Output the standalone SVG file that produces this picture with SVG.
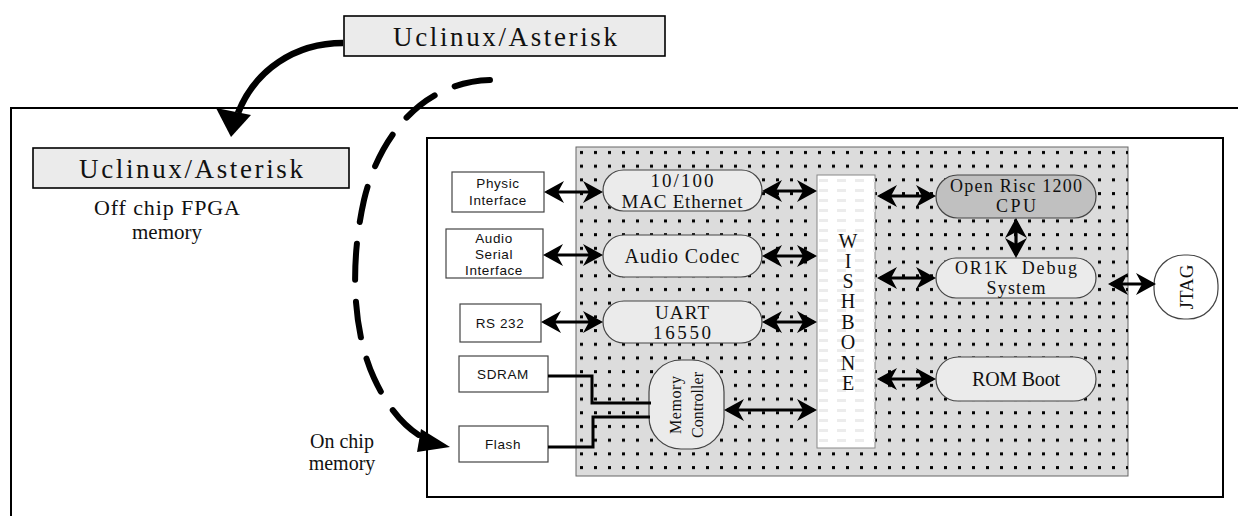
<svg xmlns="http://www.w3.org/2000/svg" width="1238" height="516" viewBox="0 0 1238 516">
<style>
.serif{font-family:"Liberation Serif","DejaVu Serif",serif;fill:#111;text-anchor:middle;dominant-baseline:central}
.sans{font-family:"Liberation Sans",Arial,sans-serif;fill:#111;text-anchor:middle;dominant-baseline:central;font-size:13.5px;letter-spacing:0.6px}
.box{fill:#fff;stroke:#444;stroke-width:1.2}
.gbox{fill:#ebebeb;stroke:#000;stroke-width:1.6}
.pill{fill:#ebebeb;stroke:#444;stroke-width:1.2}
.dbl{stroke:#000;stroke-width:3.2;fill:none;marker-start:url(#ah);marker-end:url(#ah)}
.wire{stroke:#000;stroke-width:3;fill:none}
</style>
<defs>
<marker id="ah" viewBox="0 0 20 22" refX="17" refY="11" markerWidth="20" markerHeight="22" markerUnits="userSpaceOnUse" orient="auto-start-reverse">
<path d="M0,0 L20,11 L0,22 L6,11 Z" fill="#000"/>
</marker>
<pattern id="dots" x="576" y="147" width="14" height="13.7" patternUnits="userSpaceOnUse">
<rect x="4" y="4" width="3" height="3" fill="#000"/>
</pattern>
<pattern id="wbp" x="817" y="175" width="18" height="10" patternUnits="userSpaceOnUse">
<rect x="2" y="4" width="9" height="3" fill="#ececec"/>
</pattern>
</defs>

<rect width="1238" height="516" fill="#fff"/>

<g id="outer-frame">
<rect x="11" y="108" width="1240" height="420" fill="none" stroke="#000" stroke-width="2"/>
</g>

<g id="fpga-chip">
<rect x="427" y="138" width="796" height="359" fill="none" stroke="#000" stroke-width="2"/>
</g>

<g id="soc-area">
<rect x="576" y="147" width="552" height="329" fill="#dcdcdc" stroke="#666" stroke-width="1"/>
<rect x="576" y="147" width="552" height="329" fill="url(#dots)"/>
</g>

<g id="uclinux-top">
<rect class="gbox" x="344" y="16" width="321" height="40"/>
<text class="serif" x="505" y="37" font-size="27" textLength="224" lengthAdjust="spacing">Uclinux/Asterisk</text>
</g>

<g id="uclinux-offchip">
<rect class="gbox" x="33" y="148" width="316" height="40"/>
<text class="serif" x="191" y="169" font-size="27" textLength="224" lengthAdjust="spacing">Uclinux/Asterisk</text>
</g>

<g id="label-offchip">
<text class="serif" x="167" y="207" font-size="22" textLength="146">Off chip FPGA</text>
<text class="serif" x="167" y="232" font-size="21">memory</text>
</g>

<g id="label-onchip">
<text class="serif" x="342" y="441" font-size="20">On chip</text>
<text class="serif" x="342" y="463" font-size="20">memory</text>
</g>

<g id="physic">
<rect class="box" x="452" y="172" width="92" height="40"/>
<text class="sans" x="498" y="183">Physic</text>
<text class="sans" x="498" y="200">Interface</text>
</g>

<g id="audio-serial">
<rect class="box" x="446" y="229" width="97" height="49"/>
<text class="sans" x="494" y="238">Audio</text>
<text class="sans" x="494" y="254">Serial</text>
<text class="sans" x="494" y="270">Interface</text>
</g>

<g id="rs232">
<rect class="box" x="460" y="304" width="81" height="38"/>
<text class="sans" x="500" y="323">RS 232</text>
</g>

<g id="sdram">
<rect class="box" x="459" y="356" width="89" height="36"/>
<text class="sans" x="503" y="374">SDRAM</text>
</g>

<g id="flash">
<rect class="box" x="459" y="426" width="89" height="36"/>
<text class="sans" x="503" y="444">Flash</text>
</g>

<g id="mac-ethernet">
<rect class="pill" x="603" y="170" width="159" height="41" rx="20.5"/>
<text class="serif" x="682" y="180" font-size="19" textLength="63">10/100</text>
<text class="serif" x="682" y="201" font-size="19" textLength="121">MAC Ethernet</text>
</g>

<g id="audio-codec">
<rect class="pill" x="603" y="235" width="159" height="42" rx="21"/>
<text class="serif" x="682" y="256" font-size="20" textLength="115">Audio Codec</text>
</g>

<g id="uart">
<rect class="pill" x="603" y="301" width="159" height="42" rx="21"/>
<text class="serif" x="682" y="312" font-size="19" textLength="54">UART</text>
<text class="serif" x="682" y="332" font-size="19" textLength="58">16550</text>
</g>

<g id="memory-controller">
<rect class="pill" x="649" y="360" width="75" height="89" rx="32"/>
<text class="serif" font-size="16" transform="translate(675,405) rotate(-90)" x="0" y="0" textLength="58">Memory</text>
<text class="serif" font-size="16" transform="translate(697,405) rotate(-90)" x="0" y="0" textLength="66">Controller</text>
</g>

<g id="wishbone">
<rect x="817" y="175" width="58" height="273" fill="#fff" stroke="#888" stroke-width="1"/>
<rect x="817" y="175" width="58" height="273" fill="url(#wbp)"/>
<text class="serif" font-size="20" x="848" y="241">W</text>
<text class="serif" font-size="20" x="848" y="261">I</text>
<text class="serif" font-size="20" x="848" y="281">S</text>
<text class="serif" font-size="20" x="848" y="301">H</text>
<text class="serif" font-size="20" x="848" y="322">B</text>
<text class="serif" font-size="20" x="848" y="342">O</text>
<text class="serif" font-size="20" x="848" y="363">N</text>
<text class="serif" font-size="20" x="848" y="383">E</text>
</g>

<g id="cpu">
<rect x="936" y="175" width="160" height="43" rx="21.5" fill="#c0c0c0" stroke="#444" stroke-width="1.2"/>
<text class="serif" x="1016" y="186" font-size="18" textLength="132">Open Risc 1200</text>
<text class="serif" x="1016" y="206" font-size="18" textLength="40">CPU</text>
</g>

<g id="debug">
<rect class="pill" x="936" y="258" width="160" height="40" rx="20"/>
<text class="serif" x="1016" y="268" font-size="18" textLength="122" xml:space="preserve">OR1K  Debug</text>
<text class="serif" x="1016" y="288" font-size="18" textLength="59">System</text>
</g>

<g id="rom-boot">
<rect class="pill" x="936" y="357" width="160" height="44" rx="22"/>
<text class="serif" x="1016" y="379" font-size="20" textLength="88">ROM Boot</text>
</g>

<g id="jtag">
<rect x="1154" y="255" width="64" height="64" rx="30" fill="#fff" stroke="#444" stroke-width="1.2"/>
<text class="serif" font-size="19" transform="translate(1186,287) rotate(-90)" x="0" y="0">JTAG</text>
</g>

<g id="connectors">
<line class="dbl" x1="547" y1="192" x2="600" y2="192"/>
<line class="dbl" x1="765" y1="191" x2="814" y2="191"/>
<line class="dbl" x1="546" y1="255" x2="600" y2="255"/>
<line class="dbl" x1="765" y1="256" x2="814" y2="256"/>
<line class="dbl" x1="544" y1="322" x2="600" y2="322"/>
<line class="dbl" x1="765" y1="322" x2="814" y2="322"/>
<line class="dbl" x1="727" y1="410" x2="814" y2="410"/>
<line class="dbl" x1="880" y1="196" x2="933" y2="196"/>
<line class="dbl" x1="880" y1="278" x2="933" y2="278"/>
<line class="dbl" x1="880" y1="379" x2="933" y2="379"/>
<line class="dbl" x1="1016" y1="221" x2="1016" y2="255"/>
<line class="dbl" x1="1111" y1="284" x2="1153" y2="284"/>
<polyline class="wire" points="548,376 592,376 592,403 651,403"/>
<polyline class="wire" points="548,447 593,447 593,417 650,417"/>
<path d="M343,43 C295,43 255,70 238,113" fill="none" stroke="#000" stroke-width="6.5"/>
<polygon points="231,137 216,108 251,115" fill="#000"/>
<path d="M490,80 C420,82 378,140 364,200 C350,262 352,330 374,378 C390,413 410,432 428,440" fill="none" stroke="#000" stroke-width="6" stroke-linecap="round" stroke-dasharray="36 22"/>
<polygon points="450,447 421,429 417,452" fill="#000"/>
</g>
</svg>
